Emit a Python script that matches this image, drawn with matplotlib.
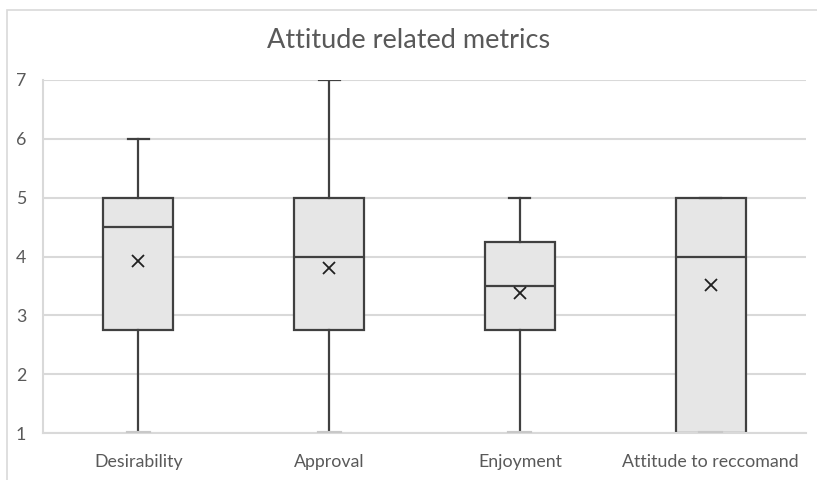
import matplotlib
matplotlib.use("Agg")
import matplotlib.pyplot as plt
from matplotlib.patches import Rectangle

categories = ["Desirability", "Approval", "Enjoyment", "Attitude to reccomand"]
mins    = [1, 1, 1, 1]
q1s     = [2.75, 2.75, 2.75, 1]
medians = [4.5, 4, 3.5, 4]
q3s     = [5, 5, 4.25, 5]
maxs    = [6, 7, 5, 5]
means   = [3.93, 3.8, 3.38, 3.52]
yticks  = [1, 2, 3, 4, 5, 6, 7]

plt.rcParams['font.family'] = ['Lato', 'DejaVu Sans']
fig = plt.figure(figsize=(8.17, 4.8), dpi=100)
W, H = 817, 480
ax = fig.add_axes([43 / W, 1 - 433 / H, (806 - 43) / W, (433 - 80) / H])

stats = []
for c, lo, a, m, b, hi, mu in zip(categories, mins, q1s, medians, q3s, maxs, means):
    stats.append(dict(label=c, whislo=lo, q1=a, med=m, q3=b, whishi=hi, mean=mu, fliers=[]))

edge = "#404040"
positions = list(range(len(categories)))
bp = ax.bxp(stats, positions=positions, widths=0.367, patch_artist=True, showmeans=True,
            showfliers=False, capwidths=0.11,
            boxprops=dict(facecolor="#e6e6e6", edgecolor=edge, linewidth=1.6),
            medianprops=dict(color=edge, linewidth=1.6),
            whiskerprops=dict(color=edge, linewidth=1.6),
            capprops=dict(color=edge, linewidth=1.6),
            meanprops=dict(marker="x", markeredgecolor="#202020", markersize=9, markeredgewidth=1.3))
for cap in bp["caps"]:
    y = cap.get_ydata()[0]
    if y == 1:
        cap.set_color("#c8c8c8")
        cap.set_linewidth(3)
        cap.set_zorder(4)

ax.set_ylim(1, 7)
ax.set_xlim(-0.5, len(categories) - 0.5)
ax.set_yticks(yticks)
ax.set_xticks(positions)
ax.set_xticklabels(categories)
ax.yaxis.grid(True, color="#d9d9d9", linewidth=1.5)
ax.set_axisbelow(True)
for s in ["top", "right"]:
    ax.spines[s].set_visible(False)
for s in ["left", "bottom"]:
    ax.spines[s].set_color("#d9d9d9")
    ax.spines[s].set_linewidth(1.5)
ax.tick_params(axis="both", length=0, labelsize=12.8, colors="#595959")
ax.tick_params(axis="y", pad=12)
ax.tick_params(axis="x", pad=15)

fig.text(0.5, 1 - 41 / H, "Attitude related metrics", ha="center", va="center",
         fontsize=19.5, color="#595959")

fig.patches.append(Rectangle((7 / W, -0.1), 1.0, 1 - 10 / H + 0.1, transform=fig.transFigure,
                             fill=False, edgecolor="#d9d9d9", linewidth=1.2))

fig.savefig("out.png", dpi=100)
